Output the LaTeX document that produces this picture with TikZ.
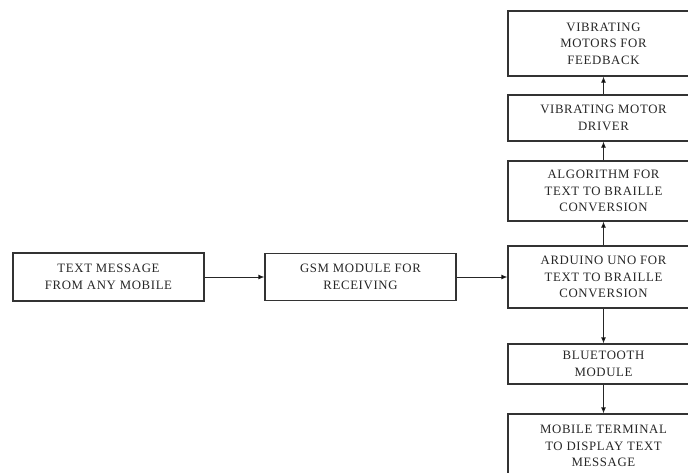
\documentclass[tikz,border=0pt]{standalone}
\usepackage{fontspec}
\setmainfont{Liberation Serif}[LetterSpace=5]
\usetikzlibrary{positioning,arrows.meta}

\begin{document}
\begin{tikzpicture}[x=1pt, y=1pt, on grid, >={Latex[length=6pt,width=5pt]},
  blk/.style={draw=black!80, line width=1.3pt, minimum width=191pt, align=center,
    text=black!85, font=\fontsize{12.8}{16.5}\selectfont, inner sep=2pt}]
\useasboundingbox (0,0) rectangle (688,-472);
\clip (0,0) rectangle (688,-472);
\node[blk, minimum height=48pt] (msg) at (108.5,-277) {TEXT MESSAGE\\FROM ANY MOBILE};
\node[blk, minimum height=47pt] (gsm) [right=252pt of msg] {GSM MODULE FOR\\RECEIVING};
\node[blk, minimum height=62pt] (uno) [right=243pt of gsm] {ARDUINO UNO FOR\\TEXT TO BRAILLE\\CONVERSION};
\node[blk, minimum height=60pt] (algo) [above=86pt of uno] {ALGORITHM FOR\\TEXT TO BRAILLE\\CONVERSION};
\node[blk, minimum height=46pt] (drv) [above=73pt of algo] {VIBRATING MOTOR\\DRIVER};
\node[blk, minimum height=65pt] (mot) [above=74.5pt of drv] {VIBRATING\\MOTORS FOR\\FEEDBACK};
\node[blk, minimum height=40pt] (bt) [below=87pt of uno] {BLUETOOTH\\MODULE};
\node[blk, minimum height=64pt] (term) [below=82pt of bt] {MOBILE TERMINAL\\TO DISPLAY TEXT\\MESSAGE};
\path[->, line width=0.8pt, draw=black!85]
(msg) edge (gsm)
(gsm) edge (uno)
(uno) edge (algo)
  edge (bt)
(algo) edge (drv)
(drv) edge (mot)
(bt) edge (term);
\end{tikzpicture}
\end{document}
